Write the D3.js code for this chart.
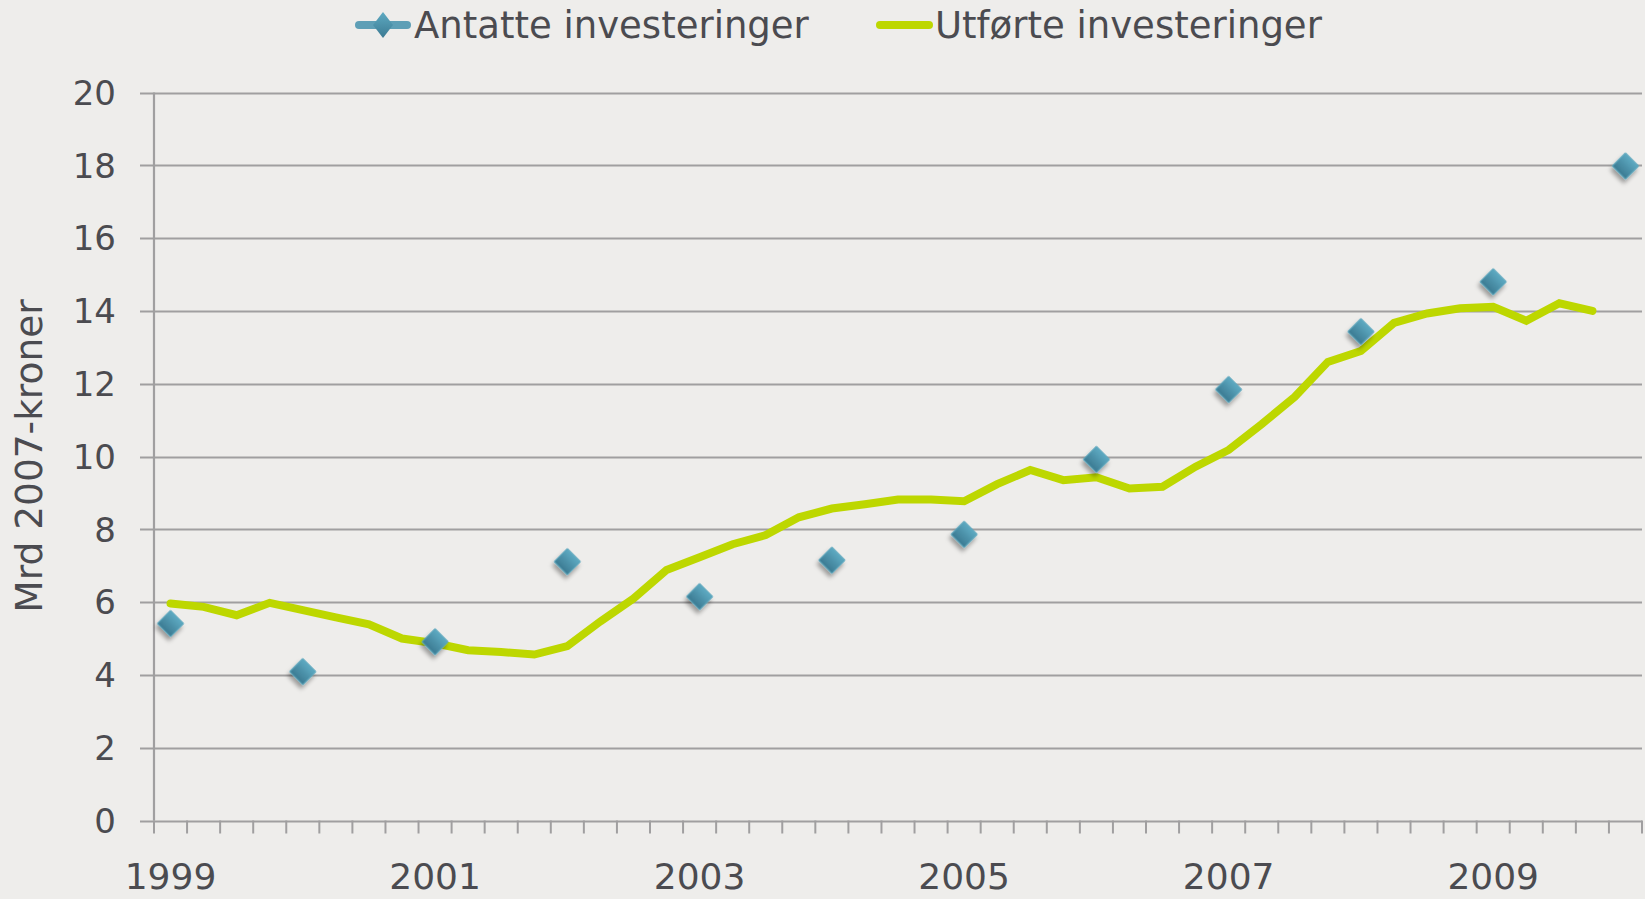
<!DOCTYPE html>
<html>
<head>
<meta charset="utf-8">
<script src="https://cdnjs.cloudflare.com/ajax/libs/d3/7.8.5/d3.min.js"></script>
<style>
  html, body { margin: 0; padding: 0; background: #eeedeb; }
  svg { display: block; font-family: "DejaVu Sans", Verdana, sans-serif; }
</style>
</head>
<body>
<svg id="chart" width="1645" height="899"></svg>
<script>
// Investeringer, kvartalsvis 1999-2010

var years = [1999, 2000, 2001, 2002, 2003, 2004, 2005, 2006, 2007, 2008, 2009, 2010];
var quarters = [1, 2, 3, 4];
var yTicks = [0, 2, 4, 6, 8, 10, 12, 14, 16, 18, 20];
var xLabelYears = [1999, 2001, 2003, 2005, 2007, 2009];

// Antatte investeringer (one value per year, first quarter)
var antatte = [5.41, 4.09, 4.91, 7.11, 6.15, 7.15, 7.86, 9.92, 11.84, 13.43, 14.8, 17.98];

// Utførte investeringer (quarterly, 1999K1 - 2009K4)
var utforte = [5.96, 5.87, 5.64, 5.98, 5.78, 5.58, 5.39, 5.0, 4.87, 4.68, 4.63, 4.56,
  4.79, 5.47, 6.1, 6.88, 7.23, 7.59, 7.84, 8.33, 8.57, 8.69, 8.82, 8.82,
  8.77, 9.24, 9.63, 9.35, 9.43, 9.12, 9.17, 9.72, 10.18, 10.89, 11.64, 12.6,
  12.9, 13.67, 13.93, 14.07, 14.11, 13.73, 14.21, 14.0];

var seriesNames = ["Antatte investeringer", "Utførte investeringer"];

// categories: every quarter from 1999K1 to 2010K1
var categories = [];
years.forEach(function (y) {
  quarters.forEach(function (q) {
    if (y < 2010 || q == 1) categories.push(y + "K" + q);
  });
});

var textColor = "#4b4b50";
var gridColor = "#a09fa0";
var lineColor = "#bdd700";

var svg = d3.select("#chart");

var x = d3.scaleBand().domain(categories).range([154, 1642]);
var y = d3.scaleLinear().domain([0, 20]).range([820.5, 92.5]);

// gradient and shadow for the diamonds
var defs = svg.append("defs");
var grad = defs.append("linearGradient")
  .attr("id", "dia")
  .attr("x1", "0").attr("y1", "0").attr("x2", "0").attr("y2", "1");
grad.append("stop").attr("offset", "0%").attr("stop-color", "#5eaac2");
grad.append("stop").attr("offset", "100%").attr("stop-color", "#3b7a92");
defs.append("filter")
  .attr("id", "shadow")
  .attr("x", "-50%").attr("y", "-50%").attr("width", "200%").attr("height", "200%")
  .append("feDropShadow")
  .attr("dx", 1.5).attr("dy", 4).attr("stdDeviation", 2.2)
  .attr("flood-color", "#000").attr("flood-opacity", 0.35);

// gridlines
svg.append("g")
  .selectAll("line")
  .data(yTicks)
  .enter()
  .append("line")
  .attr("x1", 140)
  .attr("x2", 1642)
  .attr("y1", function (d) { return Math.round(y(d)) + 0.5; })
  .attr("y2", function (d) { return Math.round(y(d)) + 0.5; })
  .attr("stroke", gridColor)
  .attr("stroke-width", 2.2);

// y axis line
svg.append("line")
  .attr("x1", 154).attr("x2", 154)
  .attr("y1", y(20)).attr("y2", y(0))
  .attr("stroke", gridColor)
  .attr("stroke-width", 2.2);

// y tick labels
svg.append("g")
  .selectAll("text")
  .data(yTicks)
  .enter()
  .append("text")
  .attr("x", 116)
  .attr("y", function (d) { return y(d); })
  .attr("dy", "0.36em")
  .attr("text-anchor", "end")
  .attr("font-size", 34)
  .attr("fill", textColor)
  .text(function (d) { return d; });

// x axis ticks at category boundaries
var boundaries = categories.map(function (c) { return x(c); }).concat([x.range()[1]]);
svg.append("g")
  .selectAll("line")
  .data(boundaries)
  .enter()
  .append("line")
  .attr("x1", function (d) { return d; })
  .attr("x2", function (d) { return d; })
  .attr("y1", y(0))
  .attr("y2", y(0) + 13)
  .attr("stroke", gridColor)
  .attr("stroke-width", 2);

// x labels
svg.append("g")
  .selectAll("text")
  .data(xLabelYears)
  .enter()
  .append("text")
  .attr("x", function (d) { return x(d + "K1") + x.bandwidth() / 2; })
  .attr("y", 889)
  .attr("text-anchor", "middle")
  .attr("font-size", 36)
  .attr("fill", textColor)
  .text(function (d) { return d; });

// y axis title
svg.append("text")
  .attr("transform", "translate(42,456) rotate(-90)")
  .attr("text-anchor", "middle")
  .attr("font-size", 37.5)
  .attr("fill", textColor)
  .text("Mrd 2007-kroner");

// Utførte line
var line = d3.line()
  .x(function (d, i) { return x(categories[i]) + x.bandwidth() / 2; })
  .y(function (d) { return y(d); });

svg.append("path")
  .datum(utforte)
  .attr("d", line)
  .attr("fill", "none")
  .attr("stroke", lineColor)
  .attr("stroke-width", 8)
  .attr("stroke-linejoin", "miter")
  .attr("stroke-linecap", "round");

// Antatte diamonds
var diamond = d3.symbol().type(d3.symbolSquare).size(340);
svg.append("g")
  .selectAll("path")
  .data(antatte)
  .enter()
  .append("path")
  .attr("d", diamond)
  .attr("transform", function (d, i) {
    return "translate(" + (x(years[i] + "K1") + x.bandwidth() / 2) + "," + y(d) + ") rotate(45)";
  })
  .attr("fill", "url(#dia)")
  .attr("stroke", "#5ba6bd")
  .attr("stroke-width", 1)
  .attr("filter", "url(#shadow)");

// legend
var legend = svg.append("g");
legend.append("line")
  .attr("x1", 359).attr("x2", 407)
  .attr("y1", 25).attr("y2", 25)
  .attr("stroke", "#5e9fb6")
  .attr("stroke-width", 8)
  .attr("stroke-linecap", "round");
legend.append("path")
  .attr("d", "M383,12 L393,25 L383,38 L373,25 Z")
  .attr("fill", "url(#dia)");
legend.append("text")
  .attr("x", 414).attr("y", 38)
  .attr("font-size", 37)
  .attr("fill", textColor)
  .text(seriesNames[0]);

legend.append("line")
  .attr("x1", 880).attr("x2", 929)
  .attr("y1", 25).attr("y2", 25)
  .attr("stroke", lineColor)
  .attr("stroke-width", 8)
  .attr("stroke-linecap", "round");
legend.append("text")
  .attr("x", 935).attr("y", 38)
  .attr("font-size", 37)
  .attr("fill", textColor)
  .text(seriesNames[1]);
</script>
</body>
</html>
